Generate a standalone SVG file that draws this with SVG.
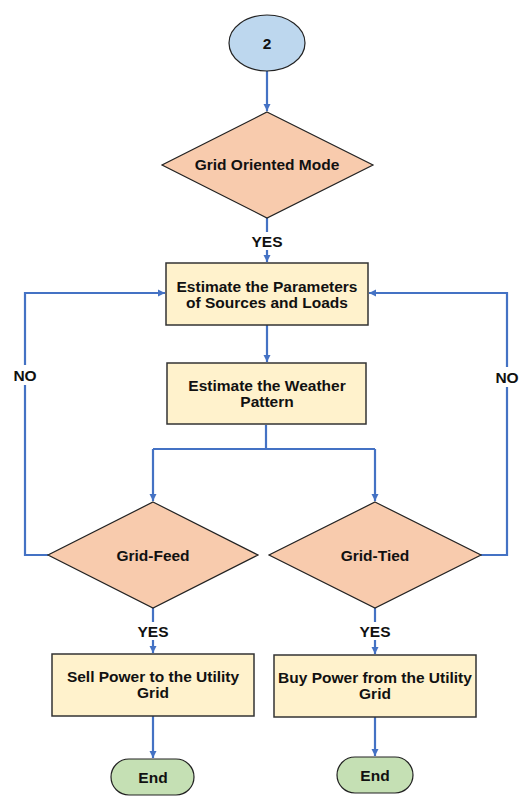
<svg xmlns="http://www.w3.org/2000/svg" width="523" height="796" viewBox="0 0 523 796">
<style>
.t{font-family:"Liberation Sans",Arial,sans-serif;font-weight:bold;font-size:15.5px;fill:#111;text-anchor:middle}
.c{fill:none;stroke:#4472c4;stroke-width:2.2}
.box{fill:#fff2cc;stroke:#333;stroke-width:1.5}
.dia{fill:#f8cbad;stroke:#222;stroke-width:1.2}
</style>
<defs>
<marker id="ah" markerWidth="8" markerHeight="8" refX="7" refY="4" orient="auto" markerUnits="userSpaceOnUse">
<path d="M0,0.5 L7,4 L0,7.5 z" fill="#4472c4"/>
</marker>
</defs>
<rect width="523" height="796" fill="#fff"/>
<g id="connectors">
<path class="c" d="M267,71 V111" marker-end="url(#ah)"/>
<path class="c" d="M267,218 V232 M267,250 V262" marker-end="url(#ah)"/>
<path class="c" d="M267,325 V362" marker-end="url(#ah)"/>
<path class="c" d="M266,425 V449 M153,449 H375"/>
<path class="c" d="M153,449 V501" marker-end="url(#ah)"/>
<path class="c" d="M375,449 V501" marker-end="url(#ah)"/>
<path class="c" d="M48,555 H25 V293 H165" marker-end="url(#ah)"/>
<path class="c" d="M481,555 H507 V293 H369" marker-end="url(#ah)"/>
<path class="c" d="M153,608 V622 M153,640 V653" marker-end="url(#ah)"/>
<path class="c" d="M375,608 V622 M375,640 V654" marker-end="url(#ah)"/>
<path class="c" d="M153,716 V758" marker-end="url(#ah)"/>
<path class="c" d="M375,717 V756" marker-end="url(#ah)"/>
<rect x="8" y="365" width="36" height="20" fill="#fff"/>
<rect x="489" y="367" width="34" height="20" fill="#fff"/>
<text class="t" x="25" y="380.5">NO</text>
<text class="t" x="507" y="382.5">NO</text>
<text class="t" x="267" y="246.5">YES</text>
<text class="t" x="153" y="636.5">YES</text>
<text class="t" x="375" y="636.5">YES</text>
</g>
<g id="start">
<ellipse cx="267" cy="43" rx="38" ry="28" fill="#bdd7ee" stroke="#222" stroke-width="1.2"/>
<text class="t" x="267" y="48.5">2</text>
</g>
<g id="gridOriented">
<polygon class="dia" points="267,112 373,165 267,218 162,165"/>
<text class="t" x="267" y="169.5">Grid Oriented Mode</text>
</g>
<g id="estParams">
<rect class="box" x="166" y="263" width="202" height="62"/>
<text class="t" x="267" y="291.5">Estimate the Parameters</text>
<text class="t" x="267" y="307.5">of Sources and Loads</text>
</g>
<g id="estWeather">
<rect class="box" x="167" y="363" width="199" height="61"/>
<text class="t" x="267" y="390.5">Estimate the Weather</text>
<text class="t" x="267" y="406.5">Pattern</text>
</g>
<g id="gridFeed">
<polygon class="dia" points="153,502 258,555 153,608 48,555"/>
<text class="t" x="153" y="560.5">Grid-Feed</text>
</g>
<g id="gridTied">
<polygon class="dia" points="375,502 481,555 375,608 269,555"/>
<text class="t" x="375" y="560.5">Grid-Tied</text>
</g>
<g id="sell">
<rect class="box" x="52" y="654" width="202" height="62"/>
<text class="t" x="153" y="681.5">Sell Power to the Utility</text>
<text class="t" x="153" y="697.5">Grid</text>
</g>
<g id="buy">
<rect class="box" x="274" y="655" width="202" height="62"/>
<text class="t" x="375" y="682.5">Buy Power from the Utility</text>
<text class="t" x="375" y="698.5">Grid</text>
</g>
<g id="end1">
<rect x="111" y="759" width="83" height="36" rx="18" fill="#c5e0b4" stroke="#222" stroke-width="1.2"/>
<text class="t" x="153" y="782.5">End</text>
</g>
<g id="end2">
<rect x="337" y="757" width="76" height="36" rx="18" fill="#c5e0b4" stroke="#222" stroke-width="1.2"/>
<text class="t" x="375" y="780.5">End</text>
</g>
</svg>
